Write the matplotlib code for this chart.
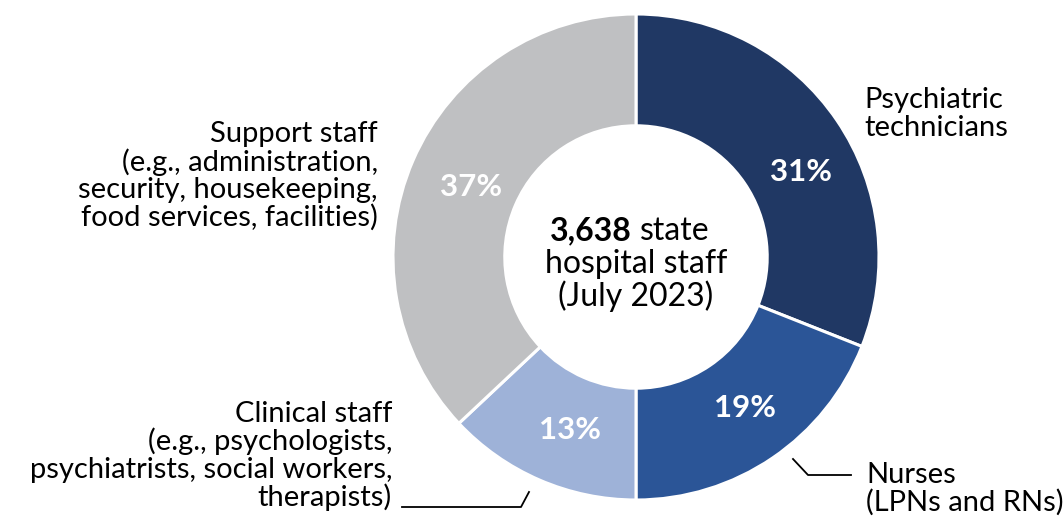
import matplotlib
matplotlib.use("Agg")
import matplotlib.pyplot as plt

plt.rcParams['font.family'] = ['Lato', 'DejaVu Sans']

groups = ['Psychiatric technicians', 'Nurses', 'Clinical staff', 'Support staff']
shares = [31, 19, 13, 37]
pct_labels = ['31%', '19%', '13%', '37%']
colors = ['#203864', '#2B5597', '#9EB2D8', '#BFC0C2']

fig = plt.figure(figsize=(10.64, 5.2), dpi=100)
ax = fig.add_axes([0, 0, 1, 1])

cx, cy, r = 636, 263, 243
wedges, _ = ax.pie(shares, colors=colors, startangle=90, counterclock=False,
                   center=(cx, cy), radius=r, frame=True,
                   wedgeprops=dict(width=r * 0.46, edgecolor='white', linewidth=2.2))
ax.set_xlim(0, 1064)
ax.set_ylim(0, 520)
ax.set_aspect('equal')
ax.axis('off')

# percentage labels inside the ring
pct_pos = [(801, 172), (745, 408), (570, 430), (471, 187)]
for (x, y), t in zip(pct_pos, pct_labels):
    ax.text(x, 520 - y, t, color='white', fontsize=22.5, fontweight='bold',
            ha='center', va='center')

# centre text
cfs = 23
ax.text(632, 520 - 231, '3,638', fontsize=cfs, fontweight='bold', ha='right', va='center')
ax.text(640, 520 - 231, 'state', fontsize=cfs, ha='left', va='center')
ax.text(636, 520 - 264, 'hospital staff', fontsize=cfs, ha='center', va='center')
ax.text(636, 520 - 296, '(July 2023)', fontsize=cfs, ha='center', va='center')

fs = 21
ls = 1.05
ax.text(864, 520 - 114, 'Psychiatric\ntechnicians', fontsize=fs, ha='left', va='center',
        linespacing=ls)
ax.text(378, 520 - 176, 'Support staff\n(e.g., administration,\nsecurity, housekeeping,\nfood services, facilities)',
        fontsize=fs, ha='right', va='center', linespacing=ls, multialignment='right')
ax.text(392, 520 - 456, 'Clinical staff\n(e.g., psychologists,\npsychiatrists, social workers,\ntherapists)',
        fontsize=fs, ha='right', va='center', linespacing=ls, multialignment='right')
ax.text(866, 520 - 489, 'Nurses\n(LPNs and RNs)', fontsize=fs, ha='left', va='center',
        linespacing=ls)

# leader lines
ax.plot([793, 808, 851], [520 - 459, 520 - 475, 520 - 475], color='black', lw=1.3)
ax.plot([529, 521, 402], [520 - 492, 520 - 507, 520 - 507], color='black', lw=1.3)

fig.savefig('out.png', dpi=100)
